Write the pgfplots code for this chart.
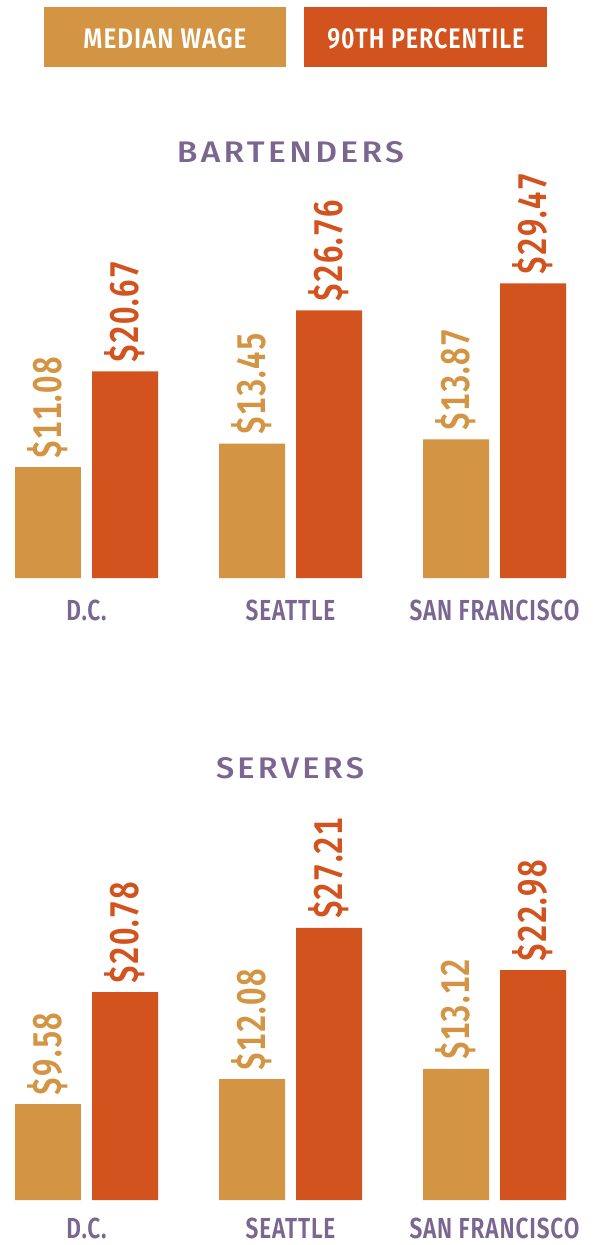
\documentclass[border=0pt]{standalone}
\usepackage{fontspec}
\usepackage{pgfplots}
\pgfplotsset{compat=1.18}
\setmainfont{Fira Sans}
\newfontfamily\condfont[FakeStretch=0.78, Numbers=Monospaced, LetterSpace=3]{Fira Sans SemiBold}
\newfontfamily\titlefont[LetterSpace=10]{Fira Sans Medium}
\definecolor{med}{HTML}{D39443}
\definecolor{pct}{HTML}{D2531E}
\definecolor{purp}{HTML}{7A6690}

\pgfplotsset{
  wagepanel/.style={
    scale only axis, width=579.36pt, height=320pt,
    xmin=-0.42, xmax=2.42, ymin=0, ymax=32,
    axis line style={draw=none}, major tick length=0pt,
    ytick=\empty, xtick={0,1,2},
    xticklabels={D.C.,SEATTLE,SAN FRANCISCO},
    xticklabel style={font=\condfont\fontsize{29}{29}\selectfont, text=purp, anchor=north, inner sep=0pt, yshift=-22pt},
    clip=false,
    ybar, bar width=0.3235, bar shift=0pt,
    nodes near coords={\$\pgfmathprintnumber[fixed,fixed zerofill,precision=2,assume math mode=true]{\pgfplotspointmeta}},
    nodes near coords style={rotate=90, anchor=west, inner xsep=9pt, inner ysep=0pt, font=\condfont\fontsize{40}{40}\selectfont},
  },
  medbar/.style={draw=none, fill=med, every node near coord/.append style={text=med}},
  pctbar/.style={draw=none, fill=pct, every node near coord/.append style={text=pct}},
}

\begin{document}
\begin{tikzpicture}[x=1pt,y=1pt]
\path[use as bounding box] (0,0) rectangle (602,-1245);
% legend
\fill[med] (44,-7) rectangle (286,-67);
\fill[pct] (304,-7) rectangle (547,-67);
\node[text=white, inner sep=0pt] at (165,-39) {\resizebox{163pt}{20pt}{\condfont MEDIAN WAGE}};
\node[text=white, inner sep=0pt] at (426,-39) {\resizebox{197pt}{20pt}{\condfont 90TH PERCENTILE}};
% titles
\node[text=purp, inner sep=0pt] at (290.5,-152) {\resizebox{227pt}{21pt}{\titlefont BARTENDERS}};
\node[text=purp, inner sep=0pt] at (290,-768) {\resizebox{148pt}{21pt}{\titlefont SERVERS}};

\begin{axis}[wagepanel, at={(0.82pt,-578pt)}, anchor=south west]
\addplot[medbar] coordinates {(-0.18873,11.08) (0.81127,13.45) (1.81127,13.87)};
\addplot[pctbar] coordinates {(0.18873,20.67) (1.18873,26.76) (2.18873,29.47)};
\end{axis}

\begin{axis}[wagepanel, at={(0.82pt,-1200pt)}, anchor=south west, xticklabel style={yshift=4pt}]
\addplot[medbar] coordinates {(-0.18873,9.58) (0.81127,12.08) (1.81127,13.12)};
\addplot[pctbar] coordinates {(0.18873,20.78) (1.18873,27.21) (2.18873,22.98)};
\end{axis}
\end{tikzpicture}
\end{document}
